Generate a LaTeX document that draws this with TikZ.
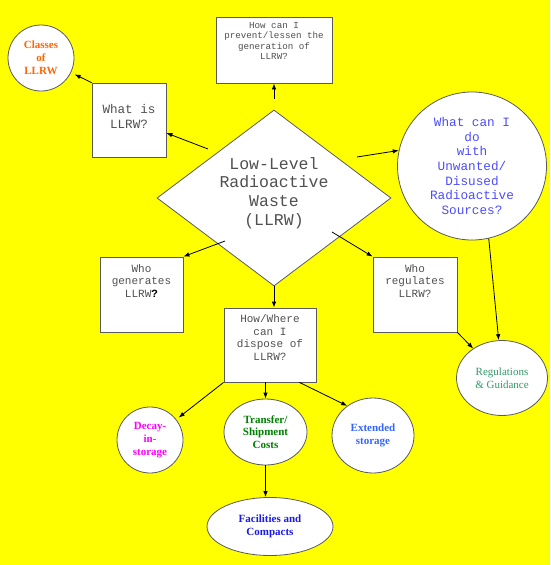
\documentclass[tikz,border=0pt]{standalone}
\usepackage{fontspec}
\setmainfont{Liberation Serif}
\setmonofont{Liberation Mono}
\usetikzlibrary{arrows.meta,shapes.geometric,calc}
\definecolor{bg}{HTML}{FFFF00}
\definecolor{edge}{HTML}{5A5A5A}
\definecolor{txtgray}{HTML}{505050}
\definecolor{corange}{HTML}{FF6600}
\definecolor{cmag}{HTML}{FF00FF}
\definecolor{cgreen}{HTML}{008000}
\definecolor{cblue}{HTML}{3366FF}
\definecolor{cdblue}{HTML}{1A1AE6}
\definecolor{cteal}{HTML}{339966}
\definecolor{cviolet}{HTML}{4D4DFF}
\begin{document}
\begin{tikzpicture}[x=1pt,y=-1pt,
  qbox/.style={draw=edge,fill=white,line width=0.8pt,rectangle,inner sep=0pt},
  oval/.style={draw=edge,fill=white,line width=0.8pt,ellipse,inner sep=0pt,align=center},
  mono/.style={font=\ttfamily,text=txtgray,align=center,inner sep=0pt},
  serifb/.style={font=\rmfamily\bfseries\fontsize{11}{12.8}\selectfont,align=center},
  arr/.style={-{Latex[length=6pt,width=4.5pt]},line width=0.8pt,black}]
\fill[bg] (0,0) rectangle (550,565);
\useasboundingbox (0,0) rectangle (550,565);

% shapes
\node[draw=edge,fill=white,line width=0.8pt,diamond,inner sep=0pt,minimum width=234pt,minimum height=176pt,aspect=1.33] (dia) at (274,198) {};
\node[mono,font=\ttfamily\fontsize{16.5}{18.6}\selectfont] (diatext) at (274,193) {Low-Level\\Radioactive\\Waste\\(LLRW)};

\node[qbox,minimum width=74pt,minimum height=74pt] (whatbox) at (129,120) {};
\node[mono,font=\ttfamily\fontsize{12.6}{15}\selectfont] (whattext) at (129,116) {What is\\LLRW?};

\node[qbox,minimum width=116pt,minimum height=66pt] (prevent) at (274,50) {};
\node[mono,font=\ttfamily\fontsize{9.2}{10.4}\selectfont] (preventtext) at (274,41) {How can I\\prevent/lessen the\\generation of\\LLRW?};

\node[qbox,minimum width=83pt,minimum height=75pt] (genbox) at (141.5,294.5) {};
\node[mono,font=\ttfamily\fontsize{11}{12.5}\selectfont] (gentext) at (141.5,281) {Who\\generates\\LLRW\textcolor{black}{\textbf{?}}};

\node[qbox,minimum width=84pt,minimum height=75pt] (regbox) at (415,294.5) {};
\node[mono,font=\ttfamily\fontsize{11}{12.5}\selectfont] (regtext) at (415,281) {Who\\regulates\\LLRW?};

\node[qbox,minimum width=92pt,minimum height=74pt] (how) at (270,345) {};
\node[mono,font=\ttfamily\fontsize{11}{12.5}\selectfont] (howtext) at (270,337.5) {How/Where\\can I\\dispose of\\LLRW?};

\node[oval,minimum width=66pt,minimum height=66pt,serifb,text=corange] (classes) at (41,58) {Classes\\of\\LLRW};

\node[oval,minimum width=149pt,minimum height=148pt,font=\ttfamily\fontsize{12.7}{14.6}\selectfont,text=cviolet] (bigc) at (472,166) {What can I\\do\\with\\Unwanted/\\Disused\\Radioactive\\Sources?};

\node[oval,minimum width=91pt,minimum height=75pt,font=\rmfamily\fontsize{11}{12.8}\selectfont,text=cteal] (regs) at (502,378) {Regulations\\\& Guidance};

\node[oval,minimum width=66pt,minimum height=66pt,serifb,text=cmag] (decay) at (150,440) {Decay-\\in-\\storage};

\node[oval,minimum width=83pt,minimum height=66pt,serifb,text=cgreen] (transfer) at (265.5,432) {Transfer/\\Shipment\\Costs};

\node[oval,minimum width=82pt,minimum height=75pt,serifb,text=cblue] (ext) at (373,435.5) {Extended\\storage};

\node[oval,minimum width=126pt,minimum height=58pt,serifb,text=cdblue] (fac) at (270,526.5) {Facilities and\\Compacts};

% connectors
\draw[arr] ($(dia.center)+(-66,-49)$) -- ([yshift=-13pt]whatbox.east);
\draw[arr,shorten >=4pt] (whatbox.north west) -- (classes);
\draw[arr] ([yshift=11pt]dia.north) -- (prevent.south);
\draw[arr] ($(dia.center)+(83,-41)$) -- (bigc.168);
\draw[arr] ($(dia.center)+(-49,43)$) -- (genbox.north east);
\draw[arr] ($(dia.center)+(58,34)$) -- (regbox.north west);
\draw[arr] (dia.south) -- (dia.south |- how.north);
\draw[arr] (bigc.-77) -- (regs.95);
\draw[arr] (regbox.south east) -- (regs);
\draw[arr,shorten >=3pt] (how.south west) -- (decay);
\draw[arr] (transfer.north |- how.south) -- (transfer.north);
\draw[arr] ([xshift=-17pt]how.south east) -- (ext.131);
\draw[arr] (transfer.south) -- (transfer.south |- fac.north);
\end{tikzpicture}
\end{document}
